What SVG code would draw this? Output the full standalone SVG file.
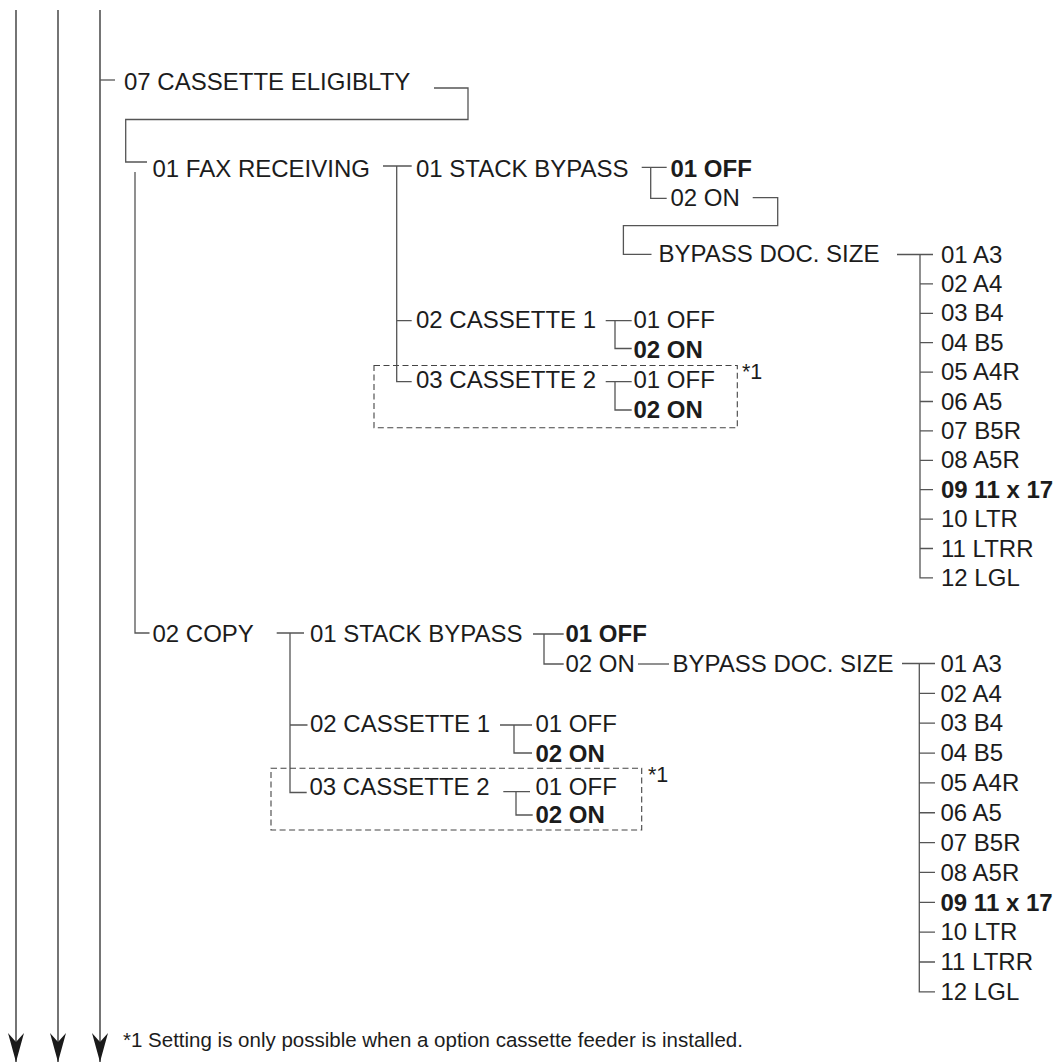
<svg xmlns="http://www.w3.org/2000/svg" width="1058" height="1064" viewBox="0 0 1058 1064">
<style>
text{font-family:"Liberation Sans",Arial,Helvetica,sans-serif;font-size:24px;fill:#1c1c1c}
.b{font-weight:bold}
.fn{font-size:20.5px}
.star{font-size:21.5px}
.ln{fill:none;stroke:#555;stroke-width:1.3}
.main{fill:none;stroke:#3a3a3a;stroke-width:1.4}
.dash{fill:none;stroke:#444;stroke-width:1.1;stroke-dasharray:6 3.5}
</style>
<defs>
<marker id="ah" markerUnits="userSpaceOnUse" markerWidth="18" markerHeight="32" viewBox="0 0 18 32" refX="9" refY="30" orient="0">
<path d="M1,1 L9,10 L17,1 L9,30 Z" fill="#1a1a1a"/>
</marker>
</defs>
<rect width="1058" height="1064" fill="#fff"/>

<g id="connectors">
<path class="main" d="M16,10 V1062" marker-end="url(#ah)"/>
<path class="main" d="M58,10 V1062" marker-end="url(#ah)"/>
<path class="main" d="M100,10 V1062" marker-end="url(#ah)"/>
<path class="ln" d="M100,80 H115"/>
<path class="ln" d="M434,88 H468 V119.5 H125.7 V162 H147"/>
<path class="ln" d="M135,172 V633 H149.5"/>
<!-- FAX -->
<path class="ln" d="M383,166 H411.7 M396.7,166 V381.7 H411.7 M396.7,320.7 H411.7"/>
<path class="ln" d="M641.7,167.3 H666.7 M650.7,167.3 V198.3 H666.7"/>
<path class="ln" d="M752.7,197.7 H777.7 V225.7 H623.4 V254.3 H651.5"/>
<path class="ln" d="M897,254.5 H933 M920,254.5 V577.9 H933 M920,283.9 H933 M920,313.3 H933 M920,342.7 H933 M920,372.1 H933 M920,401.5 H933 M920,430.9 H933 M920,460.3 H933 M920,489.7 H933 M920,519.1 H933 M920,548.5 H933"/>
<path class="ln" d="M605.7,320.7 H631.7 M615,320.7 V348.5 H631.7"/>
<path class="ln" d="M605.7,381.7 H631.7 M615,381.7 V410 H631.7"/>
<rect class="dash" x="374" y="365.5" width="363.3" height="62.2"/>
<!-- COPY -->
<path class="ln" d="M276.7,633 H304 M290,633 V792.5 H306.7 M290,725 H307.5"/>
<path class="ln" d="M533,634 H563.7 M544,634 V664 H563.7"/>
<path class="ln" d="M638,664 H669"/>
<path class="ln" d="M902,663.5 H935 M919.3,663.5 V991.85 H935 M919.3,693.35 H935 M919.3,723.2 H935 M919.3,753.05 H935 M919.3,782.9 H935 M919.3,812.75 H935 M919.3,842.6 H935 M919.3,872.45 H935 M919.3,902.3 H935 M919.3,932.15 H935 M919.3,962 H935"/>
<path class="ln" d="M500,725 H532 M514,725 V753 H532"/>
<path class="ln" d="M503.3,791.7 H530 M516,791.7 V815 H532.7"/>
<rect class="dash" x="271" y="768.3" width="370.7" height="61.7"/>
</g>

<g id="n-cassette-elig"><text x="124" y="89.5">07 CASSETTE ELIGIBLTY</text></g>
<g id="n-fax"><text x="152.5" y="176.7">01 FAX RECEIVING</text></g>
<g id="n-fax-stack"><text x="416" y="176.7">01 STACK BYPASS</text></g>
<g id="n-fax-stack-off"><text class="b" x="670.5" y="176.7">01 OFF</text></g>
<g id="n-fax-stack-on"><text x="670.5" y="206">02 ON</text></g>
<g id="n-fax-size"><text x="658.5" y="262">BYPASS DOC. SIZE</text></g>
<g id="n-fax-sizes">
<text x="941" y="262.5">01 A3</text>
<text x="941" y="291.9">02 A4</text>
<text x="941" y="321.3">03 B4</text>
<text x="941" y="350.7">04 B5</text>
<text x="941" y="380.1">05 A4R</text>
<text x="941" y="409.5">06 A5</text>
<text x="941" y="438.9">07 B5R</text>
<text x="941" y="468.3">08 A5R</text>
<text class="b" x="941" y="497.7">09 11 x 17</text>
<text x="941" y="527.1">10 LTR</text>
<text x="941" y="556.5">11 LTRR</text>
<text x="941" y="585.9">12 LGL</text>
</g>
<g id="n-fax-cas1"><text x="416" y="327.7">02 CASSETTE 1</text></g>
<g id="n-fax-cas1-opts"><text x="633.5" y="327.7">01 OFF</text><text class="b" x="633.5" y="358.3">02 ON</text></g>
<g id="n-fax-cas2"><text x="416" y="388.3">03 CASSETTE 2</text></g>
<g id="n-fax-cas2-opts"><text x="633.5" y="388.3">01 OFF</text><text class="b" x="633.5" y="418.3">02 ON</text></g>
<g id="n-fax-note"><text class="star" x="742" y="379">*1</text></g>

<g id="n-copy"><text x="152.5" y="642">02 COPY</text></g>
<g id="n-copy-stack"><text x="310" y="642">01 STACK BYPASS</text></g>
<g id="n-copy-stack-off"><text class="b" x="565.5" y="642">01 OFF</text></g>
<g id="n-copy-stack-on"><text x="565.5" y="671.7">02 ON</text></g>
<g id="n-copy-size"><text x="672.5" y="671.7">BYPASS DOC. SIZE</text></g>
<g id="n-copy-sizes">
<text x="940.5" y="671.7">01 A3</text>
<text x="940.5" y="701.55">02 A4</text>
<text x="940.5" y="731.4">03 B4</text>
<text x="940.5" y="761.25">04 B5</text>
<text x="940.5" y="791.1">05 A4R</text>
<text x="940.5" y="820.95">06 A5</text>
<text x="940.5" y="850.8">07 B5R</text>
<text x="940.5" y="880.65">08 A5R</text>
<text class="b" x="940.5" y="910.5">09 11 x 17</text>
<text x="940.5" y="940.35">10 LTR</text>
<text x="940.5" y="970.2">11 LTRR</text>
<text x="940.5" y="1000.05">12 LGL</text>
</g>
<g id="n-copy-cas1"><text x="310" y="731.7">02 CASSETTE 1</text></g>
<g id="n-copy-cas1-opts"><text x="535.5" y="731.7">01 OFF</text><text class="b" x="535.5" y="761.7">02 ON</text></g>
<g id="n-copy-cas2"><text x="309.5" y="795">03 CASSETTE 2</text></g>
<g id="n-copy-cas2-opts"><text x="535.5" y="795">01 OFF</text><text class="b" x="535.5" y="823.3">02 ON</text></g>
<g id="n-copy-note"><text class="star" x="648" y="782">*1</text></g>

<g id="footnote"><text class="fn" x="123" y="1047">*1 Setting is only possible when a option cassette feeder is installed.</text></g>
</svg>
